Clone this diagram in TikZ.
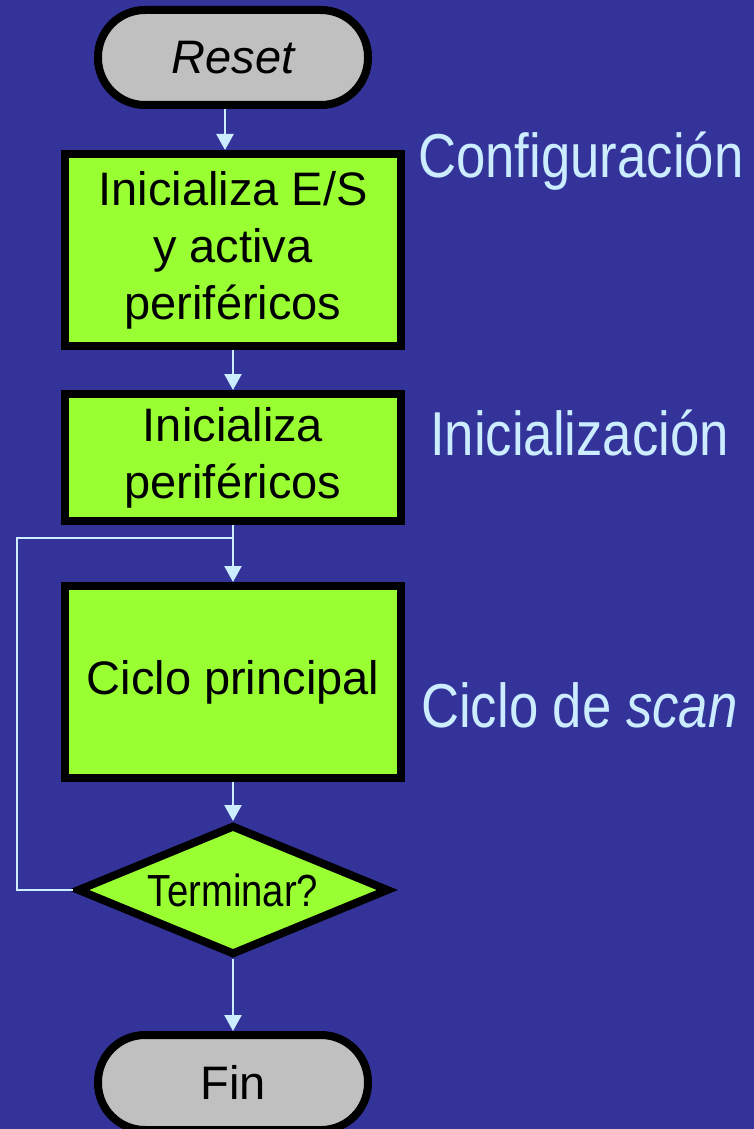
\documentclass[tikz,border=0pt]{standalone}
\usepackage{fontspec}
\setmainfont{Liberation Sans}
\newfontfamily\narrowfont[FakeStretch=0.85]{Liberation Sans}
\usepackage{xcolor}
\usepackage{tikz}
\usetikzlibrary{shapes.geometric,arrows.meta,positioning,calc}

\definecolor{slidebg}{RGB}{51,51,153}
\definecolor{boxgreen}{RGB}{153,255,51}
\definecolor{termgray}{RGB}{192,192,192}
\definecolor{linkblue}{RGB}{204,236,255}

\begin{document}
\begin{tikzpicture}[
  terminal/.style={
    rectangle, rounded corners=47pt, draw=black, line width=8pt, fill=termgray,
    minimum width=270pt, minimum height=95pt,
    font=\fontsize{47}{57}\selectfont, inner sep=0pt
  },
  box/.style={
    rectangle, draw=black, line width=8pt, fill=boxgreen,
    minimum width=336pt,
    font=\fontsize{47}{57}\selectfont, align=center, inner sep=0pt
  },
  decision/.style={
    diamond, draw=black, line width=8pt, fill=boxgreen,
    minimum width=312pt, minimum height=130pt,
    font=\narrowfont\fontsize{45}{52}\selectfont, inner sep=0pt, aspect=2.4
  },
  stage/.style={
    anchor=base west, text=linkblue, inner sep=0pt,
    font=\narrowfont\fontsize{62}{70}\selectfont
  },
  arr/.style={-{Triangle[width=17pt,length=16pt]}, draw=linkblue, line width=2.6pt},
  link/.style={draw=linkblue, line width=2.6pt}
]

% Slide background
\useasboundingbox (0,0) rectangle (754pt,-1129pt);
\fill[slidebg] (0,0) rectangle (754pt,-1129pt);

% Main column nodes
\node[terminal] (reset) at (233pt,-57.5pt) {\itshape Reset};
\node[box, minimum height=192pt, below=41pt of reset] (initio) {Inicializa E/S\\ y activa\\ periféricos};
\node[box, minimum height=127pt, below=40pt of initio] (initperif) {Inicializa\\ periféricos};
\node[box, minimum height=192pt, below=57pt of initperif] (mainloop) {Ciclo principal};
\node[decision, below=39pt of mainloop] (finish) {Terminar?};
\node[terminal, below=72pt of finish] (fin) {Fin};

% Arrows down the main spine
\draw[arr] ([xshift=-8pt]reset.south) -- ([xshift=-8pt]initio.north);
\draw[arr] (initio) -- (initperif);
\draw[arr] (initperif) -- (mainloop);
\draw[arr] (mainloop) -- (finish);
\draw[arr] (finish) -- (fin);

% Loop back (left side)
\coordinate[below=13pt of initperif] (rejoin);
\draw[link] (finish.west) -- ++(-56pt,0) |- (rejoin);

% Stage labels
\node[stage] (config) at (418pt,-177pt) {Configuración};
\node[stage] (initlabel) at (430pt,-455pt) {Inicialización};
\node[stage] (scanlabel) at (421pt,-727pt) {Ciclo de \textit{scan}};

\end{tikzpicture}
\end{document}
